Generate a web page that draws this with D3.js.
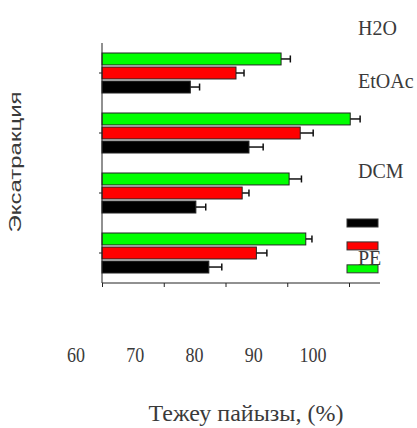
<!DOCTYPE html>
<html>
<head>
<meta charset="utf-8">
<script src="https://cdn.jsdelivr.net/npm/d3@7"></script>
<style>
  html, body { margin: 0; padding: 0; background: #fff; }
  svg text { fill: #3a3a3a; }
</style>
</head>
<body>
<div id="app"></div>
<script>
// extraction groups, top to bottom
const groups = ["H2O", "EtOAc", "DCM", "PE"]
// series, top to bottom inside each group
const series = ["s1", "s2", "s3"]
const colors = ["#00ff00", "#ff0000", "#000000"]

const green = [89.0, 100.2, 90.3, 93.0]
const red = [81.7, 92.1, 82.7, 85.0]
const black = [74.3, 83.8, 75.2, 77.3]
const greenErr = [1.5, 1.6, 2.0, 1.0]
const redErr = [1.3, 2.1, 1.1, 1.7]
const blackErr = [1.5, 2.3, 1.6, 2.1]

const tickValues = [60, 70, 80, 90, 100]
const xTitle = "Тежеу пайызы, (%)"
const yTitle = "Эксатракция"

const values = [green, red, black]
const errs = [greenErr, redErr, blackErr]
const rows = groups.flatMap((g, gi) => series.map((s, si) => ({
  g, s, si, v: values[si][gi], e: errs[si][gi]
})))

const W = 417, H = 428
const svg = d3.select("#app").append("svg")
    .attr("width", W)
    .attr("height", H)

const x = d3.scaleLinear().domain([60, 100]).range([102, 349])
const y = d3.scaleBand().domain(groups).range([43, 283])
const yi = d3.scaleBand().domain(series).range([-20, 20]).paddingInner(0.15)

// bars
svg.append("g")
  .selectAll("rect")
  .data(rows)
  .join("rect")
    .attr("x", x(60))
    .attr("y", d => y(d.g) + y.bandwidth() / 2 + yi(d.s))
    .attr("width", d => x(d.v) - x(60))
    .attr("height", yi.bandwidth())
    .attr("fill", d => colors[d.si])
    .attr("stroke", "#222")
    .attr("stroke-width", 1)

// error bars
const eb = svg.append("g")
    .attr("stroke", "#111")
    .attr("stroke-width", 1.5)
  .selectAll("g")
  .data(rows)
  .join("g")
    .attr("transform", d => `translate(0,${y(d.g) + y.bandwidth() / 2 + yi(d.s) + yi.bandwidth() / 2})`)
eb.append("line")
    .attr("x1", d => x(d.v))
    .attr("x2", d => x(d.v + d.e))
eb.append("line")
    .attr("x1", d => x(d.v + d.e))
    .attr("x2", d => x(d.v + d.e))
    .attr("y1", -3.5)
    .attr("y2", 3.5)

// left axis
const yAxis = svg.append("g")
    .attr("transform", `translate(${x(60)},0)`)
    .call(d3.axisLeft(y).tickSize(3).tickFormat(""))
yAxis.select(".domain").attr("d", `M0,${y.range()[0]}V${y.range()[1]}`)
yAxis.selectAll("line, path").attr("stroke", "#222")

// bottom axis (tick labels are drawn below, offset like the original)
const xAxis = svg.append("g")
    .attr("transform", `translate(0,${y.range()[1]})`)
    .call(d3.axisBottom(x).tickValues(tickValues).tickSize(4).tickFormat(""))
xAxis.select(".domain").attr("d", `M${x(60)},0H380`)
xAxis.selectAll("line, path").attr("stroke", "#222")

const xl = d3.scaleLinear().domain([60, 100]).range([76, 313])
svg.append("g")
  .selectAll("text")
  .data(tickValues)
  .join("text")
    .attr("transform", d => `translate(${xl(d)},362) scale(0.9,1)`)
    .attr("text-anchor", "middle")
    .attr("font-family", "Liberation Serif, serif")
    .attr("font-size", 20)
    .text(d => d)

// group labels on the right
const labelShift = [-38, -45, -15, 12]
svg.append("g")
  .selectAll("text")
  .data(groups)
  .join("text")
    .attr("x", 358)
    .attr("y", (d, i) => y(d) + y.bandwidth() / 2 + labelShift[i])
    .attr("font-family", "Liberation Serif, serif")
    .attr("font-size", 20)
    .text(d => d)

// legend (no text)
const leg = d3.scaleBand().domain([...series].reverse()).range([219, 274]).paddingInner(0.6)
svg.append("g")
  .selectAll("rect")
  .data(series)
  .join("rect")
    .attr("x", 347)
    .attr("y", d => leg(d))
    .attr("width", 31)
    .attr("height", 8)
    .attr("fill", (d, i) => colors[i])
    .attr("stroke", "#333")

// titles
svg.append("text")
    .attr("x", 246)
    .attr("y", 421)
    .attr("text-anchor", "middle")
    .attr("font-family", "Liberation Serif, serif")
    .attr("font-size", 24)
    .text(xTitle)

svg.append("text")
    .attr("transform", "translate(21,162) rotate(-90)")
    .attr("text-anchor", "middle")
    .attr("font-family", "Liberation Sans, Arial, sans-serif")
    .attr("font-size", 17)
    .attr("fill", "#555")
    .attr("textLength", 141)
    .attr("lengthAdjust", "spacingAndGlyphs")
    .text(yTitle)
</script>
</body>
</html>
